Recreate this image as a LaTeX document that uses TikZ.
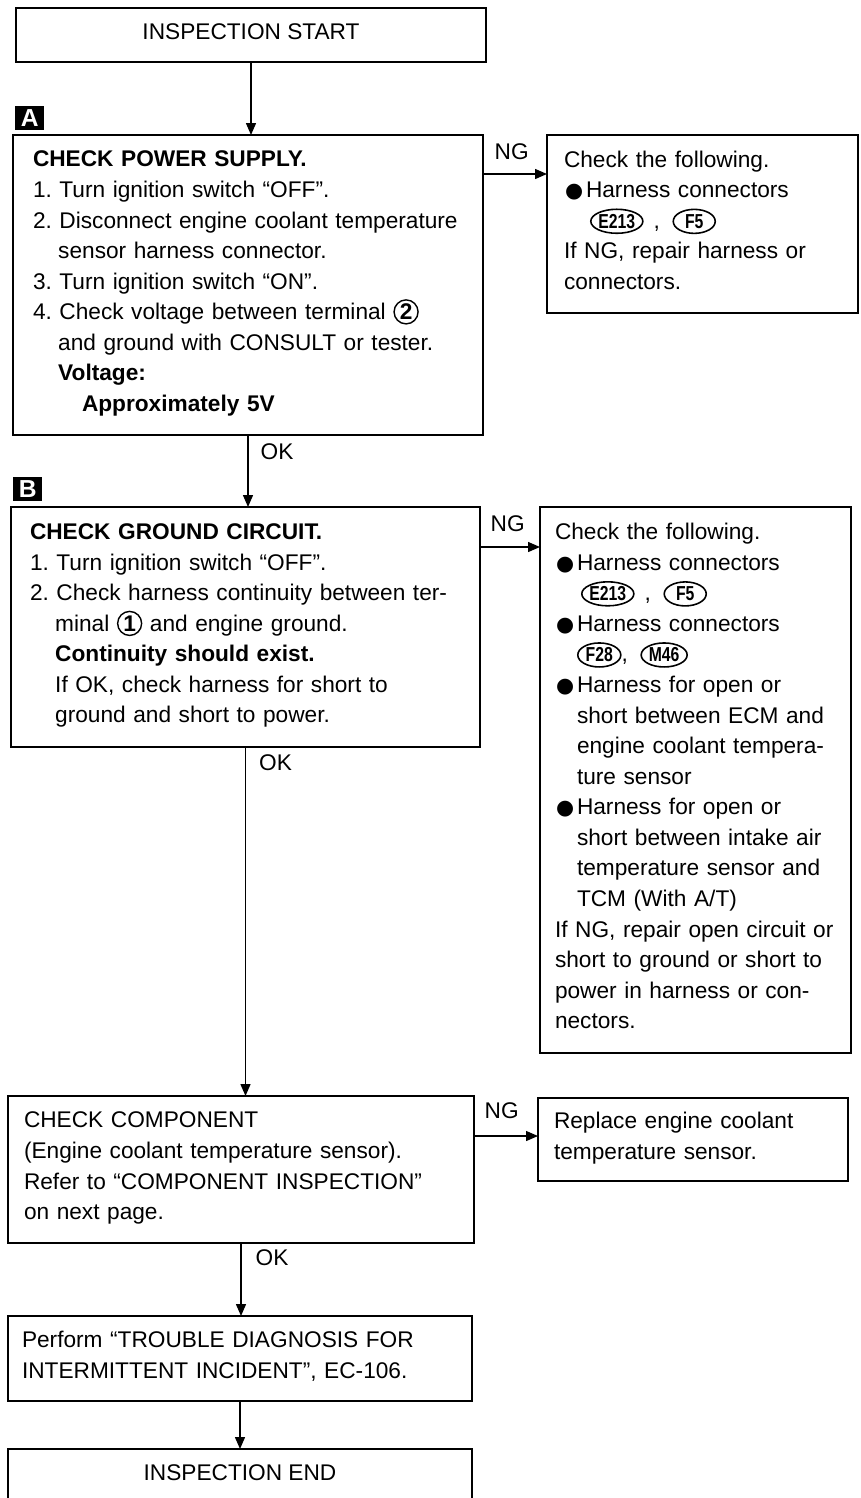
\documentclass[tikz,border=0pt]{standalone}
\usepackage{fontspec}
\setmainfont{Liberation Sans}
\newfontfamily\symfont{DejaVu Sans}
\usepackage{graphicx}
\usepackage{tikz}
\usetikzlibrary{arrows.meta, positioning, shapes.geometric}

% Small helpers for the text boxes
\newcommand{\bulletmark}{\makebox[0.44cm][l]{\hspace{0.02cm}{\symfont\fontsize{11.8}{10}\selectfont ●}}}
\newcommand{\indentbul}{\hspace*{0.44cm}}
\newcommand{\indentnum}{\hspace*{1.112em}}
\newcommand{\boxstrut}{\rule[-6.3pt]{0pt}{17.4pt}}
\newcommand{\termno}[1]{\tikz[baseline=(t.base)]\node[circle, draw, line width=0.8pt, inner sep=0pt, outer sep=0pt, minimum size=0.48cm, text width={}, align=center, anchor=center, font=\bfseries](t){#1};}
\newcommand{\connector}[2]{\tikz[baseline=(c.base)]\node[ellipse, draw, line width=0.9pt, inner sep=0pt, outer sep=0pt, minimum width=#1, minimum height=0.48cm, text width={}, align=center, anchor=center, font=\fontsize{11.5}{11.5}\selectfont\bfseries](c){\scalebox{0.78}[1]{#2}};}

\begin{document}
\begin{tikzpicture}[
  font=\fontsize{12.9}{17.4}\selectfont\frenchspacing,
  box/.style={
    rectangle,
    draw,
    line width=1pt,
    outer sep=0pt,
    align=left,
    inner ysep=0pt
  },
  endbox/.style={
    rectangle,
    draw,
    line width=1pt,
    outer sep=0pt,
    align=center,
    minimum width=9.4cm,
    minimum height=1.08cm
  },
  tag/.style={
    rectangle,
    fill=black,
    text=white,
    inner sep=0pt,
    minimum width=0.58cm,
    minimum height=0.48cm,
    font=\fontsize{14}{14}\selectfont\bfseries
  },
  note/.style={
    inner sep=0pt
  },
  arrow/.style={
    -{Triangle[length=0.24cm, width=0.2cm]},
    line width=0.8pt
  }
]
\useasboundingbox (0,0) rectangle (17.2,-29.96);

% Main vertical chain
\node[endbox] (start) at (5.02,-0.70) {\boxstrut INSPECTION START};

\node[box, text width=8.60cm, minimum height=6.0cm, inner xsep=0.4cm, below=1.46cm of start, xshift=-0.06cm] (supply)
{\boxstrut\textbf{CHECK POWER SUPPLY.}\\
1. Turn ignition switch “OFF”.\\
2. Disconnect engine coolant temperature\\
\indentnum sensor harness connector.\\
3. Turn ignition switch “ON”.\\
4. Check voltage between terminal \termno{2}\\
\indentnum and ground with CONSULT or tester.\\
\indentnum\textbf{Voltage:}\\
\indentnum\hspace*{1.05em}\textbf{Approximately 5V}\boxstrut};

\node[box, text width=8.62cm, minimum height=4.8cm, inner xsep=0.38cm, below=1.44cm of supply, xshift=-0.05cm] (ground)
{\boxstrut\textbf{CHECK GROUND CIRCUIT.}\\
1. Turn ignition switch “OFF”.\\
2. Check harness continuity between ter-\\
\indentnum minal \termno{1} and engine ground.\\
\indentnum\textbf{Continuity should exist.}\\
\indentnum If OK, check harness for short to\\
\indentnum ground and short to power.\boxstrut};

\node[box, text width=8.68cm, minimum height=2.94cm, inner xsep=0.32cm, below=6.98cm of ground, xshift=-0.09cm] (comp)
{\boxstrut CHECK COMPONENT\\
(Engine coolant temperature sensor).\\
Refer to “COMPONENT INSPECTION”\\
on next page.\boxstrut};

\node[box, text width=8.72cm, minimum height=1.7cm, inner xsep=0.28cm, below=1.46cm of comp, xshift=-0.02cm] (perform)
{\boxstrut Perform “TROUBLE DIAGNOSIS FOR\\
INTERMITTENT INCIDENT”, EC-106.\boxstrut};

\node[endbox, minimum width=9.28cm, below=0.96cm of perform] (finish) {\boxstrut INSPECTION END};

% Step tags
\node[tag, above right=0.1cm and 0.04cm of supply.north west] (tagA) {A};
\node[tag, above right=0.12cm and 0.04cm of ground.north west] (tagB) {B};

% NG side boxes
\node[box, text width=5.54cm, minimum height=3.56cm, inner xsep=0.34cm, right=1.28cm of supply.north east, anchor=north west] (ngsupply)
{\boxstrut Check the following.\\
\bulletmark Harness connectors\\
\hspace*{0.52cm}\connector{1.0cm}{E213}\hspace{0.2cm},\hspace{0.25cm}\connector{0.84cm}{F5}\\
If NG, repair harness or\\
connectors.\boxstrut};

\node[box, text width=5.62cm, minimum height=10.92cm, inner xsep=0.3cm, right=1.2cm of ground.north east, anchor=north west] (ngground)
{\boxstrut Check the following.\\
\bulletmark Harness connectors\\
\hspace*{0.52cm}\connector{1.0cm}{E213}\hspace{0.2cm},\hspace{0.25cm}\connector{0.84cm}{F5}\\
\bulletmark Harness connectors\\
\hspace*{0.44cm}\connector{0.86cm}{F28},\hspace{0.25cm}\connector{0.92cm}{M46}\\
\bulletmark Harness for open or\\
\indentbul short between ECM and\\
\indentbul engine coolant tempera-\\
\indentbul ture sensor\\
\bulletmark Harness for open or\\
\indentbul short between intake air\\
\indentbul temperature sensor and\\
\indentbul TCM (With A/T)\\
If NG, repair open circuit or\\
short to ground or short to\\
power in harness or con-\\
nectors.\boxstrut};

\node[box, text width=5.56cm, minimum height=1.66cm, inner xsep=0.32cm, right=1.28cm of comp.north east, anchor=north west, yshift=-0.04cm] (ngcomp)
{\boxstrut Replace engine coolant\\
temperature sensor.\boxstrut};

% Main arrows
\draw[arrow] (start.south) -- (start.south |- supply.north);
\draw[arrow] (supply.south) -- (supply.south |- ground.north)
  node[note, pos=0, anchor=north west, xshift=0.24cm, yshift=-0.16cm] {OK};
\draw[arrow] (ground.south) -- (ground.south |- comp.north)
  node[note, pos=0, anchor=north west, xshift=0.26cm, yshift=-0.14cm] {OK};
\draw[arrow] (comp.south) -- (comp.south |- perform.north)
  node[note, pos=0, anchor=north west, xshift=0.28cm, yshift=-0.12cm] {OK};
\draw[arrow] (perform.south) -- (perform.south |- finish.north);

% NG arrows
\coordinate (ngA) at ([yshift=-0.78cm]supply.north east);
\coordinate (ngB) at ([yshift=-0.8cm]ground.north east);
\coordinate (ngC) at ([yshift=-0.8cm]comp.north east);
\draw[arrow] (ngA) -- (ngA -| ngsupply.west)
  node[note, pos=0, anchor=south west, xshift=0.22cm, yshift=0.28cm] {NG};
\draw[arrow] (ngB) -- (ngB -| ngground.west)
  node[note, pos=0, anchor=south west, xshift=0.2cm, yshift=0.3cm] {NG};
\draw[arrow] (ngC) -- (ngC -| ngcomp.west)
  node[note, pos=0, anchor=south west, xshift=0.2cm, yshift=0.34cm] {NG};

\end{tikzpicture}
\end{document}
